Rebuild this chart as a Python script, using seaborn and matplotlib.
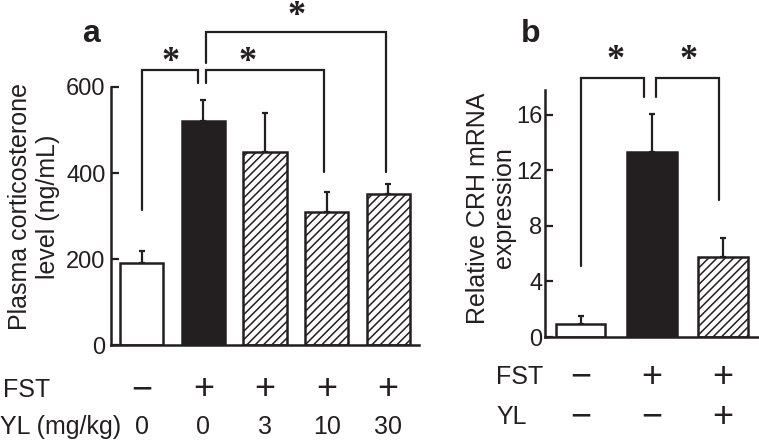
import matplotlib
matplotlib.use("Agg")
import matplotlib.pyplot as plt
import matplotlib.transforms as mtransforms
import numpy as np
import seaborn as sns

# Panel a: plasma corticosterone (ng/mL)
groups_a = ["Control", "FST", "FST+YL3", "FST+YL10", "FST+YL30"]
cort_mean = [191, 521, 449, 309, 351]
cort_sem = [28, 49, 91, 47, 23]
fst_a = ["\u2212", "+", "+", "+", "+"]
yl_dose = ["0", "0", "3", "10", "30"]

# Panel b: relative CRH mRNA expression
groups_b = ["Control", "FST", "FST+YL"]
crh_mean = [0.94, 13.3, 5.75]
crh_sem = [0.56, 2.8, 1.35]
fst_b = ["\u2212", "+", "+"]
yl_b = ["\u2212", "\u2212", "+"]

# significance brackets: (x_left, x_right, y_left, y_right, y_top, star_x, star_y)
brackets_a = [
    (0.0, 0.92, 314, 609, 640, 0.46, 674),
    (1.05, 2.96, 609, 402, 640, 1.71, 674),
    (1.05, 3.97, 656, 402, 728, 2.52, 780),
]
brackets_b = [
    (0.0, 0.89, 5.1, 17.3, 18.7, 0.49, 20.4),
    (1.06, 1.94, 17.3, 9.9, 18.7, 1.52, 20.4),
]

ink = "#231f20"
sns.set_style("ticks")
plt.rcParams['font.family'] = ['Liberation Sans', 'DejaVu Sans']
plt.rcParams['hatch.linewidth'] = 1.1
plt.rcParams['hatch.color'] = ink
plt.rcParams['text.color'] = ink

W, H = 759, 442
fig = plt.figure(figsize=(W / 100, H / 100), dpi=100)
ax_a = fig.add_axes([111 / W, 1 - 345 / H, 308 / W, 258 / H])
ax_b = fig.add_axes([545 / W, 1 - 337 / H, 213.5 / W, 247 / H])


def draw_panel(ax, groups, means, sems, colors, ylim, yticks, brackets, pad):
    sns.barplot(x=groups, y=means, hue=groups, palette=colors, width=0.7,
                saturation=1, edgecolor=ink, linewidth=1.8, errorbar=None,
                legend=False, ax=ax, zorder=2)
    for i, bar in enumerate(ax.patches):
        if i >= 2:
            bar.set_hatch("////")
    ax.errorbar(np.arange(len(groups)), means, yerr=[np.zeros(len(sems)), sems],
                fmt="none", ecolor=ink, elinewidth=1.6, capsize=2.5, capthick=1.6, zorder=1)
    ax.set_xlim(-0.5, len(groups) - 0.5)
    ax.set_ylim(*ylim)
    ax.set_yticks(yticks)
    ax.set_xticks([])
    ax.set_xlabel("")
    ax.set_ylabel("")
    ax.tick_params(axis="y", direction="in", length=6, width=1.6, labelsize=17,
                   pad=pad, colors=ink)
    for s in ["top", "right"]:
        ax.spines[s].set_visible(False)
    for s in ["left", "bottom"]:
        ax.spines[s].set_linewidth(1.8)
        ax.spines[s].set_color(ink)
    star_tr = mtransforms.offset_copy(ax.transData, fig=ax.figure, y=-7, units="dots")
    for x1, x2, y1, y2, top, sx, sy in brackets:
        ax.plot([x1, x1, x2, x2], [y1, top, top, y2], color=ink, lw=1.6,
                clip_on=False, solid_joinstyle="miter")
        ax.text(sx, sy, "*", family="Liberation Serif", fontsize=26, fontweight="bold",
                ha="center", va="center", color=ink, transform=star_tr)


draw_panel(ax_a, groups_a, cort_mean, cort_sem,
           ["white", ink, "white", "white", "white"],
           (0, 600), [0, 200, 400, 600], brackets_a, 4)
draw_panel(ax_b, groups_b, crh_mean, crh_sem,
           ["white", ink, "white"],
           (0, 17.8), [0, 4, 8, 12, 16], brackets_b, 2)

# y labels and panel letters
fig.text(34 / W, 1 - 207 / H, "Plasma corticosterone\nlevel (ng/mL)", rotation=90,
         ha="center", va="center", fontsize=18, linespacing=1.25)
fig.text(491 / W, 1 - 208 / H, "Relative CRH mRNA\nexpression", rotation=90,
         ha="center", va="center", fontsize=18, linespacing=1.15)
fig.text(91 / W, 1 - 42 / H, "a", fontsize=23, fontweight="bold", ha="center", va="baseline")
fig.text(531 / W, 1 - 42 / H, "b", fontsize=23, fontweight="bold", ha="center", va="baseline")

# treatment rows under the bars
fig.text(3 / W, 1 - 390 / H, "FST", fontsize=18, ha="left", va="center")
fig.text(0 / W, 1 - 427 / H, "YL (mg/kg)", fontsize=18, ha="left", va="center")
fig.text(496 / W, 1 - 377 / H, "FST", fontsize=18, ha="left", va="center")
fig.text(496 / W, 1 - 417 / H, "YL", fontsize=18, ha="left", va="center")

tr_a = mtransforms.blended_transform_factory(ax_a.transData, fig.transFigure)
for i, (s, d) in enumerate(zip(fst_a, yl_dose)):
    ax_a.text(i, 1 - 390 / H, s, fontsize=26, ha="center", va="center", transform=tr_a)
    ax_a.text(i, 1 - 427 / H, d, fontsize=18, ha="center", va="center", transform=tr_a)

tr_b = mtransforms.blended_transform_factory(ax_b.transData, fig.transFigure)
for i, (s, t) in enumerate(zip(fst_b, yl_b)):
    ax_b.text(i, 1 - 377 / H, s, fontsize=26, ha="center", va="center", transform=tr_b)
    ax_b.text(i, 1 - 417 / H, t, fontsize=26, ha="center", va="center", transform=tr_b)

fig.savefig("out.png", dpi=100)
